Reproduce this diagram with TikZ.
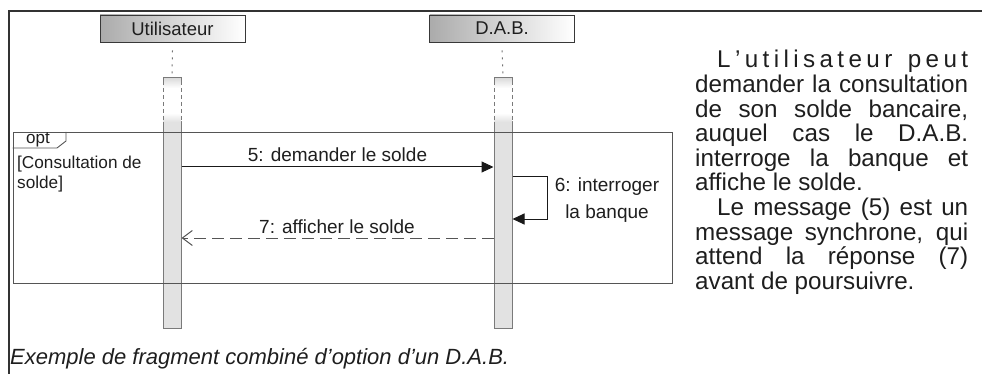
\documentclass[tikz,border=0pt]{standalone}
\usepackage{fontspec}
\setmainfont{Liberation Sans}
\usetikzlibrary{arrows.meta,calc}
\definecolor{ink}{HTML}{1E1E1E}
\definecolor{edge}{HTML}{555555}
\definecolor{barfill}{HTML}{E2E2E2}
\definecolor{baredge}{HTML}{7A7A7A}
\begin{document}
\begin{tikzpicture}[x=1pt,y=-1pt,
  hdr/.style={draw=black!78, line width=0.8pt, left color=black!33, right color=white,
    minimum width=145pt, minimum height=27pt, inner sep=0pt,
    font=\fontsize{18.5}{22}\selectfont, text=ink},
  actbar/.style={draw=baredge, line width=1pt, fill=barfill, minimum width=18pt, inner sep=0pt},
  lifeline/.style={draw=black!55, line width=1pt, dash pattern=on 2pt off 5pt},
  capedge/.style={draw=baredge, line width=1pt},
  capdash/.style={draw=baredge, line width=1pt, dash pattern=on 4pt off 3pt},
  fragment/.style={draw=edge, line width=0.9pt, inner sep=0pt},
  msgfont/.style={font=\fontsize{19}{27}\selectfont, text=ink, inner sep=0pt},
  syncmsg/.style={draw=black!90, line width=1pt, -{Triangle[length=12pt,width=11pt]}},
  replymsg/.style={draw=edge, line width=1pt, dash pattern=on 12pt off 6pt,
    -{Straight Barb[length=10pt,width=15pt,line width=1pt]}},
]
\useasboundingbox (0,0) rectangle (982,374);

% page frame (top and left edges)
\draw[black!80, line width=1.6pt] (982,11) -- (9,11) -- (9,374);

% lifeline heads
\node[hdr] (user) at (172.5,28.5) {Utilisateur};
\node[hdr] (dab)  at (502,28.5)  {D.A.B.};

% activation bars
\node[actbar, minimum height=206pt] (ubar) at (172,225) {};
\node[actbar, minimum height=206pt] (dbar) at (503,225) {};

% top caps of the activations, with their dashed gaps
\foreach \cx/\nm in {172/ucap,503/dcap}{
  \coordinate (\nm) at (\cx,78);
  \shade[top color=black!14, bottom color=white] (\cx-9,78) rectangle (\cx+9,88);
  \shade[top color=white, bottom color=barfill] (\cx-9,113) rectangle (\cx+9,122);
  \draw[capedge] (\cx-9,85) -- (\cx-9,78) -- (\cx+9,78) -- (\cx+9,85);
  \draw[capdash] (\cx-9,88) -- (\cx-9,122);
  \draw[capdash] (\cx+9,88) -- (\cx+9,122);
}
\draw[lifeline] ($(user.south)+(0,8)$) -- (ucap);
\draw[lifeline] ($(dab.south)+(0,8)$) -- (dcap);

% combined fragment "opt"
\node[fragment, anchor=north west, minimum width=659.5pt, minimum height=151pt] (opt) at (12.5,132) {};
\draw[edge, line width=0.9pt] ($(opt.north west)+(0,16)$) -- ++(44.5,0) -- ++(9,-7) -- ++(0,-9);
\node[anchor=base, inner sep=0pt, font=\fontsize{17}{20}\selectfont, text=ink] (optlbl) at (38,143.5) {opt};
\node[anchor=north west, align=left, inner sep=0pt, font=\fontsize{17.2}{20.5}\selectfont, text=ink]
  (guard) at (17,155.5) {[Consultation de\\solde]};

% messages
\coordinate (y5) at (0,167);
\coordinate (y6a) at (0,177);
\coordinate (y6b) at (0,219);
\coordinate (y7) at (0,238);
\coordinate (loop) at (547,177);

\draw[syncmsg] (ubar.east |- y5) -- (dbar.west |- y5);
\node[msgfont, anchor=base] (m5) at (337.5,162) {5: demander le solde};

\draw[syncmsg] (dbar.east |- y6a) -- (loop) -- (loop |- y6b) -- (dbar.east |- y6b);
\node[msgfont, align=center] (m6) at (607,200) {6: interroger\\la banque};

\draw[replymsg] (dbar.west |- y7) -- (ubar.east |- y7);
\node[msgfont, anchor=base] (m7) at (337,233.5) {7: afficher le solde};

% caption
\node[anchor=base west, inner sep=0pt, font=\itshape\fontsize{22}{26}\selectfont, text=ink]
  (caption) at (10,364) {Exemple de fragment combiné d’option d’un D.A.B.};

% explanatory text
\node[anchor=base west, inner sep=0pt, text=ink] (para) at (695,68) {\vtop{\hsize=273pt
  \fontsize{24.2}{24.6}\selectfont
  \hbox to 273pt{\hskip22pt L\hfil’\hfil u\hfil t\hfil i\hfil l\hfil i\hfil s\hfil a\hfil t\hfil e\hfil u\hfil r\hfil\ \hfil p\hfil e\hfil u\hfil t}
  \hbox to 273pt{demander la consultation}
  \hbox to 273pt{de son solde bancaire,}
  \hbox to 273pt{auquel cas le D.A.B.}
  \hbox to 273pt{interroge la banque et}
  \hbox{affiche le solde.}
  \hbox to 273pt{\hskip22pt Le message (5) est un}
  \hbox to 273pt{message synchrone, qui}
  \hbox to 273pt{attend la réponse (7)}
  \hbox{avant de poursuivre.}
}};
\end{tikzpicture}
\end{document}
